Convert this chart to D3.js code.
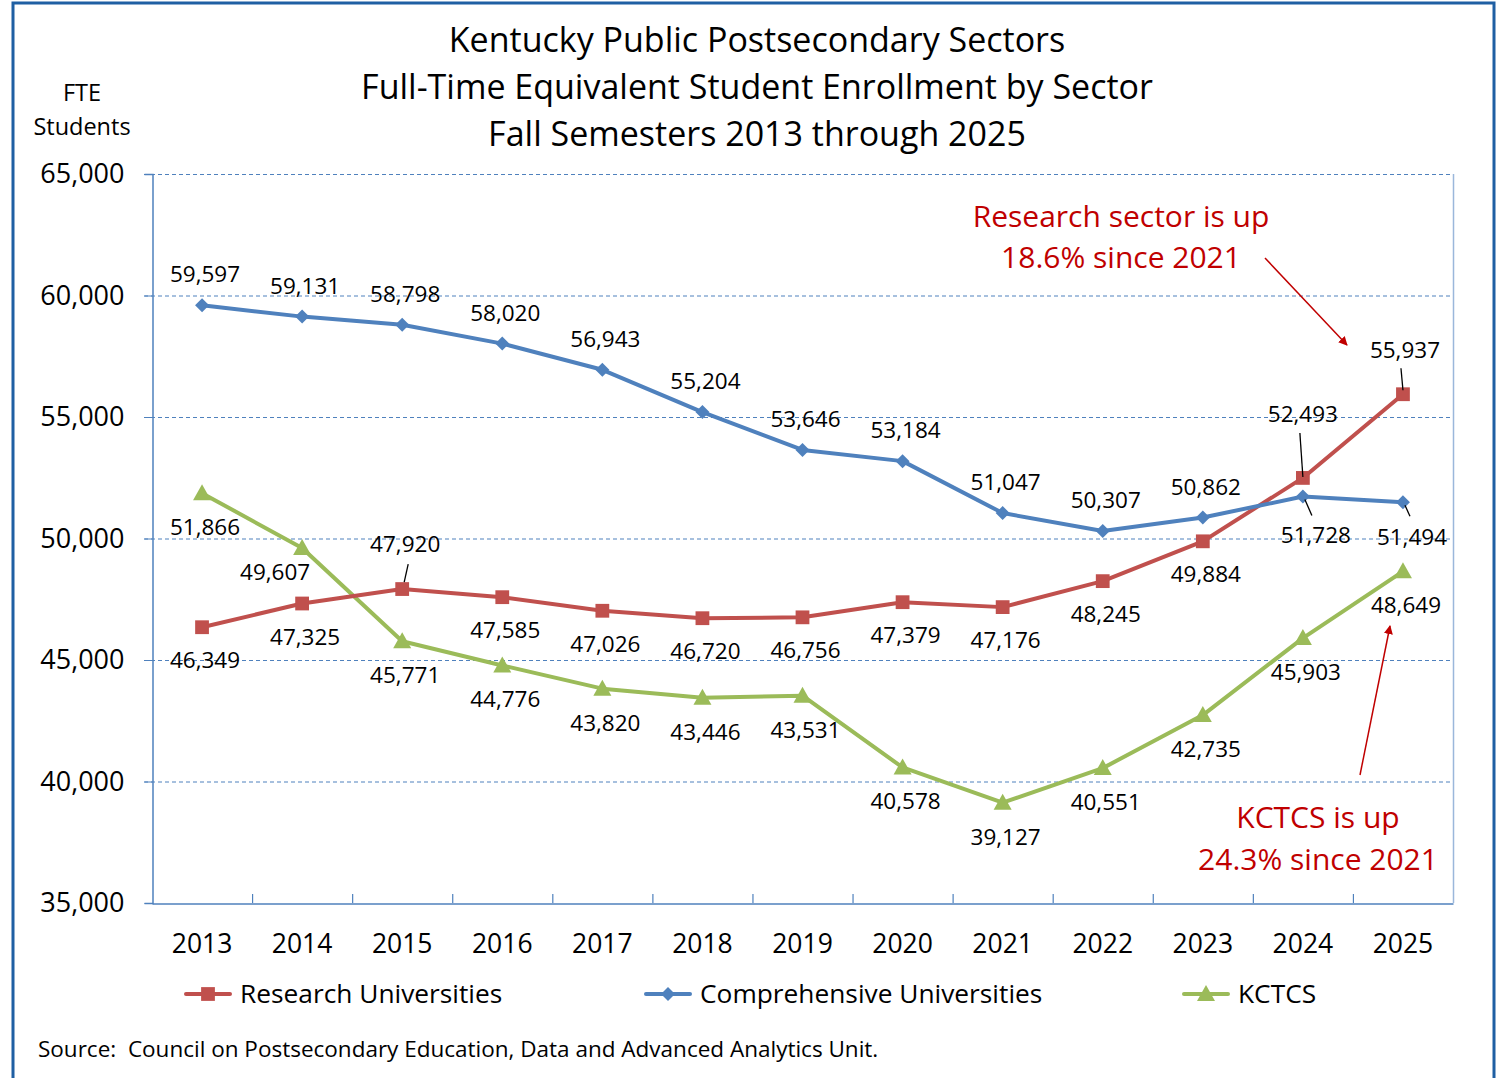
<!DOCTYPE html>
<html>
<head>
<meta charset="utf-8">
<script src="https://cdn.jsdelivr.net/npm/d3@7"></script>
<style>
  html, body { margin: 0; padding: 0; background: #fff; }
  svg { display: block; font-family: "Open Sans", Lato, sans-serif; }
</style>
</head>
<body>
<svg id="chart" width="1501" height="1078"></svg>
<script>
// Fall semesters and FTE enrollment per sector
const years = ["2013","2014","2015","2016","2017","2018","2019","2020","2021","2022","2023","2024","2025"];
const research = [46349, 47325, 47920, 47585, 47026, 46720, 46756, 47379, 47176, 48245, 49884, 52493, 55937];
const comprehensive = [59597, 59131, 58798, 58020, 56943, 55204, 53646, 53184, 51047, 50307, 50862, 51728, 51494];
const kctcs = [51866, 49607, 45771, 44776, 43820, 43446, 43531, 40578, 39127, 40551, 42735, 45903, 48649];
const yTicks = [35000, 40000, 45000, 50000, 55000, 60000, 65000];
const titleLines = ["Kentucky Public Postsecondary Sectors",
  "Full-Time Equivalent Student Enrollment by Sector",
  "Fall Semesters 2013 through 2025"];

const svg = d3.select("#chart");
const FONT = "'Open Sans', Lato, sans-serif";
const plotLeft = 152, plotRight = 1453, plotTop = 174, plotBottom = 903;

const x = d3.scaleBand().domain(years).range([plotLeft, plotRight]);
const y = d3.scaleLinear().domain([35000, 65000]).range([plotBottom, plotTop]);
const cx = d => x(d) + x.bandwidth() / 2;
const fmt = d3.format(",");

// outer frame
svg.append("rect").attr("x", 13).attr("y", 3).attr("width", 1481).attr("height", 1090)
  .attr("fill", "none").attr("stroke", "#1f5fa3").attr("stroke-width", 3);

// title
svg.append("g").selectAll("text").data(titleLines).join("text")
  .attr("x", 757).attr("y", (d, i) => 52 + i * 47)
  .attr("text-anchor", "middle").attr("font-size", 34).attr("fill", "#000")
  .text(d => d);

// y axis label
svg.append("text").attr("x", 82).attr("y", 101).attr("text-anchor", "middle")
  .attr("font-size", 23.5).text("FTE");
svg.append("text").attr("x", 82).attr("y", 135).attr("text-anchor", "middle")
  .attr("font-size", 23.5).text("Students");

// gridlines
svg.append("g").selectAll("line").data(yTicks.filter(t => t > 35000)).join("line")
  .attr("x1", plotLeft - 8).attr("x2", plotRight)
  .attr("y1", d => y(d) + 0.5).attr("y2", d => y(d) + 0.5)
  .attr("stroke", "#4f81bd").attr("stroke-width", 1).attr("stroke-dasharray", "4,3");

// right plot edge
svg.append("line").attr("x1", plotRight + 0.5).attr("x2", plotRight + 0.5).attr("y1", plotTop).attr("y2", plotBottom)
  .attr("stroke", "#9bb7db").attr("stroke-width", 1.5);

// y axis
const yAxis = svg.append("g").attr("transform", `translate(${plotLeft + 0.5},0)`)
  .call(d3.axisLeft(y).tickValues(yTicks).tickFormat(fmt).tickSize(8).tickPadding(20));
yAxis.select(".domain").attr("stroke", "#4f81bd").attr("stroke-width", 1.5);
yAxis.selectAll(".tick line").attr("stroke", "#4f81bd");
yAxis.selectAll(".tick text").attr("font-size", 27).attr("fill", "#000")
  .attr("font-family", FONT);

// x axis
const xAxis = svg.append("g").attr("transform", `translate(0,${plotBottom + 0.5})`)
  .call(d3.axisBottom(x).tickSize(0).tickPadding(31));
xAxis.select(".domain").attr("stroke", "#4f81bd").attr("stroke-width", 1.5);
xAxis.selectAll(".tick text").attr("font-size", 26.5).attr("fill", "#000")
  .attr("font-family", FONT);
// category dividers
svg.append("g").selectAll("line").data(years.slice(1)).join("line")
  .attr("x1", d => x(d) + 0.5).attr("x2", d => x(d) + 0.5)
  .attr("y1", plotBottom - 9).attr("y2", plotBottom)
  .attr("stroke", "#4f81bd").attr("stroke-width", 1.2);

const series = [
  { name: "Research Universities", values: research, color: "#c0504d", marker: "square" },
  { name: "Comprehensive Universities", values: comprehensive, color: "#4f81bd", marker: "diamond" },
  { name: "KCTCS", values: kctcs, color: "#9bbb59", marker: "triangle" }
];

function markerPath(type) {
  if (type === "square") return d3.symbol(d3.symbolSquare, 190)();
  if (type === "diamond") return "M0,-7L7,0L0,7L-7,0Z";
  return "M0,-9L9,7L-9,7Z";
}

const line = d3.line().x((d, i) => cx(years[i])).y(d => y(d));

// stacking order: green under red under blue
const drawOrder = [series[2], series[0], series[1]];
drawOrder.forEach(s => {
  svg.append("path").datum(s.values).attr("d", line)
    .attr("fill", "none").attr("stroke", s.color).attr("stroke-width", 4)
    .attr("stroke-linejoin", "round");
  svg.append("g").selectAll("path").data(s.values).join("path")
    .attr("transform", (d, i) => `translate(${cx(years[i])},${y(d)})`)
    .attr("d", markerPath(s.marker)).attr("fill", s.color);
});

// data label offsets (dx, dy to the text baseline, relative to the point)
const labelOffsets = {
  "Research Universities": years.map(() => [3, 41]),
  "Comprehensive Universities": years.map(() => [3, -23]),
  "KCTCS": years.map(() => [3, 42])
};
labelOffsets["Research Universities"][2] = [3, -37];
labelOffsets["Research Universities"][11] = [0, -56];
labelOffsets["Research Universities"][12] = [2, -36];
labelOffsets["Comprehensive Universities"][11] = [13, 46];
labelOffsets["Comprehensive Universities"][12] = [9, 43];
labelOffsets["KCTCS"][1] = [-27, 32];

// leader lines for displaced labels
const leaders = [
  { s: 0, i: 2, from: [6, -25], to: [2, -7] },
  { s: 0, i: 11, from: [-3, -45], to: [0, -1] },
  { s: 0, i: 12, from: [-2, -26], to: [0, -4] },
  { s: 1, i: 11, from: [2, 3], to: [9, 19] },
  { s: 1, i: 12, from: [2, 3], to: [7, 14] }
];
leaders.forEach(l => {
  const s = series[l.s];
  const px = cx(years[l.i]), py = y(s.values[l.i]);
  svg.append("line")
    .attr("x1", px + l.from[0]).attr("y1", py + l.from[1])
    .attr("x2", px + l.to[0]).attr("y2", py + l.to[1])
    .attr("stroke", "#000").attr("stroke-width", 1.3);
});

series.forEach(s => {
  svg.append("g").selectAll("text").data(s.values).join("text")
    .attr("x", (d, i) => cx(years[i]) + labelOffsets[s.name][i][0])
    .attr("y", (d, i) => y(d) + labelOffsets[s.name][i][1])
    .attr("text-anchor", "middle").attr("font-size", 22.5).attr("fill", "#000")
    .text(d => fmt(d));
});

// annotations
const red = "#c00000";
svg.append("defs").append("marker").attr("id", "arrowhead")
  .attr("viewBox", "0 0 10 10").attr("refX", 9).attr("refY", 5)
  .attr("markerWidth", 6).attr("markerHeight", 6).attr("orient", "auto-start-reverse")
  .append("path").attr("d", "M0,0L10,5L0,10Z").attr("fill", red);

[["Research sector is up", 1121, 227], ["18.6% since 2021", 1121, 268],
 ["KCTCS is up", 1318, 828], ["24.3% since 2021", 1318, 870]].forEach(([t, tx, ty]) => {
  svg.append("text").attr("x", tx).attr("y", ty).attr("text-anchor", "middle")
    .attr("font-size", 30).attr("fill", red).text(t);
});
svg.append("line").attr("x1", 1265).attr("y1", 258).attr("x2", 1347).attr("y2", 345)
  .attr("stroke", red).attr("stroke-width", 1.5).attr("marker-end", "url(#arrowhead)");
svg.append("line").attr("x1", 1360).attr("y1", 775).attr("x2", 1390).attr("y2", 626)
  .attr("stroke", red).attr("stroke-width", 1.5).attr("marker-end", "url(#arrowhead)");

// legend
const legendPos = [186, 646, 1184];
series.forEach((s, i) => {
  const g = svg.append("g").attr("transform", `translate(${legendPos[i]},994)`);
  g.append("line").attr("x1", 0).attr("x2", 44).attr("y1", 0).attr("y2", 0)
    .attr("stroke", s.color).attr("stroke-width", 4).attr("stroke-linecap", "round");
  g.append("path").attr("transform", "translate(22,0)").attr("d", markerPath(s.marker)).attr("fill", s.color);
  g.append("text").attr("x", 54).attr("y", 9).attr("font-size", 26.3).attr("fill", "#000").text(s.name);
});

// source note
svg.append("text").attr("x", 38).attr("y", 1057).attr("font-size", 22.5).attr("fill", "#000")
  .attr("xml:space", "preserve")
  .text("Source:  Council on Postsecondary Education, Data and Advanced Analytics Unit.");
</script>
</body>
</html>
